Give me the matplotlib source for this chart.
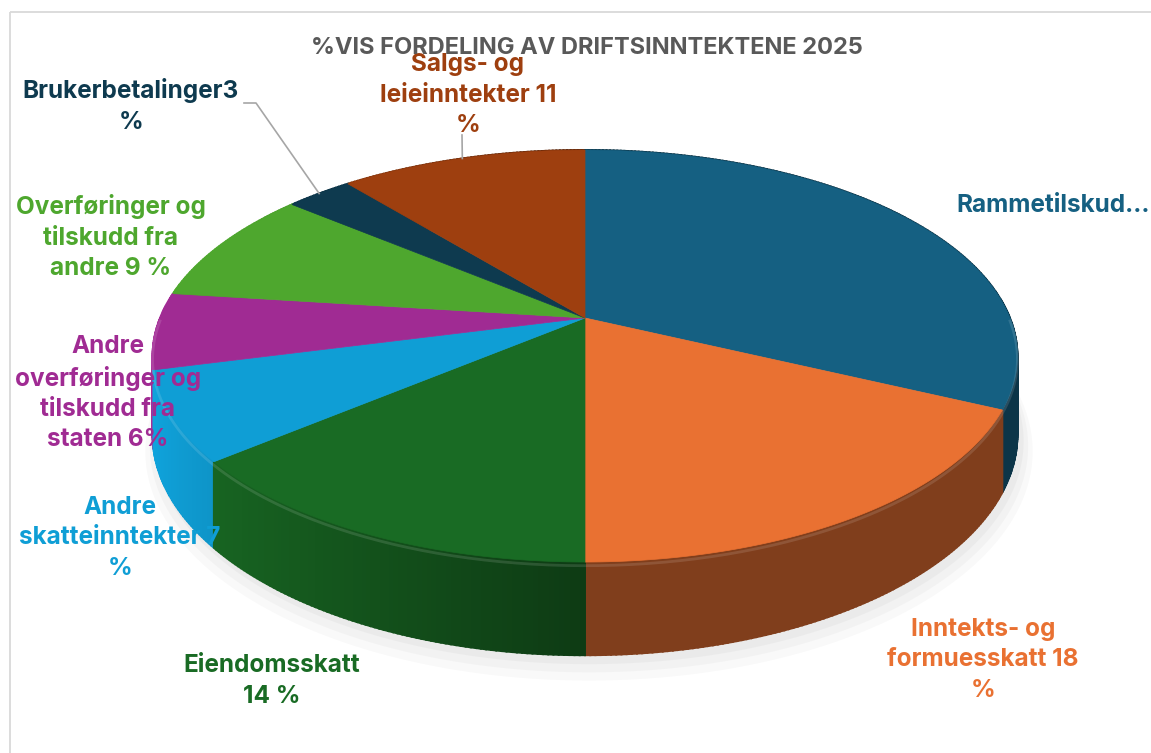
import numpy as np
import matplotlib
matplotlib.use("Agg")
import matplotlib.pyplot as plt
from matplotlib.patches import Polygon, Rectangle
from matplotlib.collections import PolyCollection
from matplotlib.colors import to_rgb

# ---------------- data ----------------
categories = ["Rammetilskudd", "Inntekts- og formuesskatt", "Eiendomsskatt",
              "Andre skatteinntekter", "Andre overføringer og tilskudd fra staten",
              "Overføringer og tilskudd fra andre", "Brukerbetalinger",
              "Salgs- og leieinntekter"]
shares = [32, 18, 14, 7, 6, 9, 3, 11]
labels = ["Rammetilskud...", "Inntekts- og\nformuesskatt 18\n%", "Eiendomsskatt\n14 %",
          "Andre\nskatteinntekter 7\n%", "Andre\noverføringer og\ntilskudd fra\nstaten 6%",
          "Overføringer og\ntilskudd fra\nandre 9 %", "Brukerbetalinger3\n%",
          "Salgs- og\nleieinntekter 11\n%"]
colors = ["#156082", "#E97132", "#196B24", "#0F9ED5", "#A02B93", "#4EA72E",
          "#0E3A4F", "#9E3F0F"]
title = "%VIS FORDELING AV DRIFTSINNTEKTENE 2025"

# label layout (pixel positions of label centers) and leader lines
label_pos = [(1053, 205), (983, 660), (272, 681), (120, 538), (108, 393),
             (111, 237), (131, 106), (468, 95)]
leader = [False, False, False, False, False, False, True, True]

FONT = ["Inter", "Lato", "DejaVu Sans"]

W, H = 1151, 753
fig = plt.figure(figsize=(W / 100, H / 100), dpi=100)
ax = fig.add_axes([0, 0, 1, 1])
ax.set_xlim(0, W)
ax.set_ylim(H, 0)
ax.axis("off")

# chart frame
ax.add_patch(Rectangle((10, 12), 1300, 900, fill=False, edgecolor="#d9d9d9", lw=1.3))

# ---------------- 3D pie geometry ----------------
CX, CY = 585, 318
A, B, K = 425, 199, 0.1845
DEPTH = 76


def proj(theta, r=1.0, z=0.0):
    u = r * np.sin(theta)
    v = -r * np.cos(theta)
    s = 1.0 / (1.0 - K * v)
    return CX + A * u * s, CY + (B * v + z) * s


fr = np.cumsum([0] + shares) / float(sum(shares))
starts = fr[:-1] * 2 * np.pi
ends = fr[1:] * 2 * np.pi

# soft shadow
tt = np.linspace(0, 2 * np.pi, 400)
for dr, dz, al in [(1.025, 14, 0.05), (1.015, 10, 0.06), (1.005, 6, 0.07)]:
    x, y = proj(tt, dr, DEPTH + dz)
    ax.add_patch(Polygon(np.column_stack([x + 4, y]), closed=True,
                         facecolor="#8c8c8c", alpha=al, lw=0))


def shade(theta):
    f = 0.55 + 0.5 * max(0.0, -np.sin(theta))
    return min(f, 1.05)


# sides
order = np.argsort([-np.cos((s + e) / 2) for s, e in zip(starts, ends)])
for i in order:
    s, e = starts[i], ends[i]
    n = max(int((e - s) / 0.01), 2)
    th = np.linspace(s, e, n + 1)
    polys, fcs = [], []
    base = np.array(to_rgb(colors[i]))
    for a0, a1 in zip(th[:-1], th[1:]):
        x0, y0 = proj(a0)
        x1, y1 = proj(a1)
        x2, y2 = proj(a1, 1.0, DEPTH)
        x3, y3 = proj(a0, 1.0, DEPTH)
        polys.append([(x0, y0), (x1, y1), (x2, y2), (x3, y3)])
        c = np.clip(base * shade((a0 + a1) / 2), 0, 1)
        fcs.append(c)
    ax.add_collection(PolyCollection(polys, facecolors=fcs, edgecolors=fcs,
                                     linewidths=1.4, joinstyle="miter"))

# tops
for i in range(len(shares)):
    s, e = starts[i], ends[i]
    th = np.linspace(s, e, 200)
    x, y = proj(th)
    pts = np.vstack([[CX, CY], np.column_stack([x, y])])
    ax.add_patch(Polygon(pts, closed=True, facecolor=colors[i], edgecolor=colors[i], lw=0.5))

# rim highlight on the front
th = np.linspace(np.pi / 2, 3 * np.pi / 2, 300)
x, y = proj(th, 1.0, 3)
ax.plot(x, y, color="white", alpha=0.12, lw=2)

# ---------------- labels ----------------
for i in range(len(shares)):
    lx, ly = label_pos[i]
    ax.text(lx, ly, labels[i], ha="center", va="center", color=colors[i],
            fontsize=17.5, fontweight="bold", family=FONT, linespacing=1.4)
    if leader[i]:
        mid = (starts[i] + ends[i]) / 2
        mx, my = proj(mid)
        if i == 6:
            pts = [(244, 103), (256, 103), (mx, my)]
        else:
            pts = [(462, 135), (mx, my)]
        px, py = zip(*pts)
        ax.plot(px, py, color="#a6a6a6", lw=1.2)

ax.text(587, 48, title, ha="center", va="center", color="#595959",
        fontsize=17, fontweight="bold", family=FONT)

fig.savefig("out.png", dpi=100)
